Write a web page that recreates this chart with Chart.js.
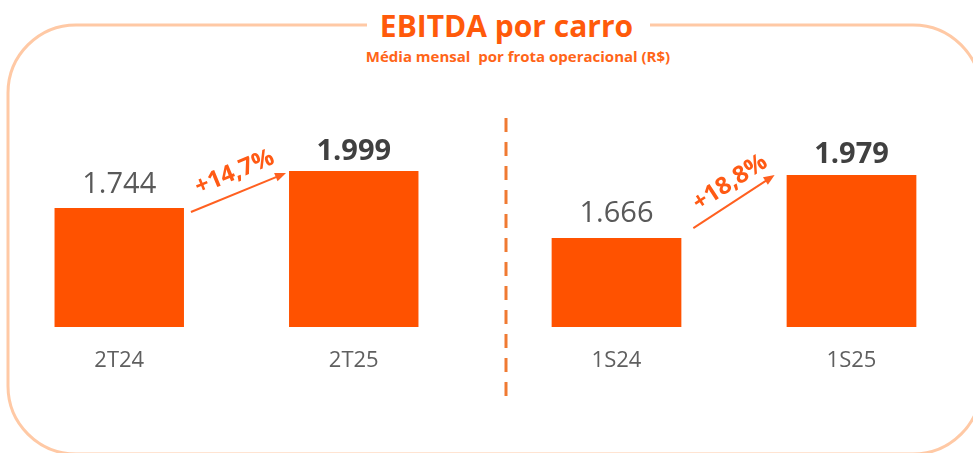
<!DOCTYPE html>
<html><head><meta charset="utf-8">
<script src="https://cdn.jsdelivr.net/npm/chart.js@4.4.1/dist/chart.umd.min.js"></script>
<style>
html,body{margin:0;padding:0;background:#fff;width:973px;height:453px;overflow:hidden;}
#wrap{position:relative;width:973px;height:453px;}
#bg{position:absolute;left:0;top:0;}
.c{position:absolute;top:0;height:400px;}
</style></head><body>
<div id="wrap">
<svg id="bg" width="973" height="453" xmlns="http://www.w3.org/2000/svg">
  <rect x="8" y="25" width="973" height="429" rx="68" ry="68" fill="none" stroke="#FFC9A5" stroke-width="3"/>
  <rect x="367" y="14" width="283" height="22" fill="#fff"/>
  <text x="506.5" y="37" text-anchor="middle" font-family="Open Sans" font-weight="bold" font-size="30" fill="#FF5A0A">EBITDA por carro</text>
  <text x="518" y="62" text-anchor="middle" font-family="Open Sans" font-weight="bold" font-size="15" fill="#FF6518" style="white-space:pre">Média mensal  por frota operacional (R$)</text>
  <line x1="506" y1="118" x2="506" y2="400" stroke="#F07A32" stroke-width="3" stroke-dasharray="14 10"/>
</svg>
<div class="c" style="left:2px;width:469px"><canvas id="c1"></canvas></div>
<div class="c" style="left:499px;width:470px"><canvas id="c2"></canvas></div>
</div>
<script>
// ---- data ----
const quarterLabels = ['2T24', '2T25'];
const quarterValues = [1744, 1999];
const quarterGrowth = '+14,7%';
const semesterLabels = ['1S24', '1S25'];
const semesterValues = [1666, 1979];
const semesterGrowth = '+18,8%';

function fmt(v){ return Math.floor(v/1000) + '.' + String(v % 1000).padStart(3,'0'); }

const annot = {
  id: 'annot',
  afterDatasetsDraw(chart, args, o){
    const ctx = chart.ctx;
    const meta = chart.getDatasetMeta(0);
    const vals = chart.data.datasets[0].data;
    meta.data.forEach((bar, i) => {
      const bold = i === 1;
      ctx.save();
      ctx.font = (bold ? 'bold ' : '') + '29px "Open Sans"';
      ctx.fillStyle = bold ? '#404040' : '#595959';
      ctx.textAlign = 'center';
      ctx.textBaseline = 'alphabetic';
      ctx.fillText(fmt(vals[i]), bar.x, bar.y - (bold ? o.gapBold : o.gap));
      ctx.restore();
    });
    const b0 = meta.data[0], b1 = meta.data[1];
    const x0 = b0.x + b0.width/2 + o.start[0], y0 = b0.y + o.start[1];
    const x1 = b1.x - b1.width/2 + o.end[0], y1 = b1.y + o.end[1];
    const ang = Math.atan2(y1 - y0, x1 - x0);
    const hl = 11, hw = 4.5;
    ctx.save();
    ctx.strokeStyle = o.color; ctx.fillStyle = o.color; ctx.lineWidth = 2;
    ctx.beginPath();
    ctx.moveTo(x0, y0);
    ctx.lineTo(x1 - hl*0.8*Math.cos(ang), y1 - hl*0.8*Math.sin(ang));
    ctx.stroke();
    ctx.translate(x1, y1); ctx.rotate(ang);
    ctx.beginPath(); ctx.moveTo(0,0); ctx.lineTo(-hl,-hw); ctx.lineTo(-hl,hw); ctx.closePath(); ctx.fill();
    ctx.restore();
    ctx.save();
    ctx.translate((x0+x1)/2, (y0+y1)/2); ctx.rotate(ang);
    ctx.fillStyle = o.textColor;
    ctx.font = 'bold 24px "Open Sans"';
    ctx.textAlign = 'center'; ctx.textBaseline = 'alphabetic';
    ctx.fillText(o.text, o.dx, -o.lift);
    ctx.restore();
  }
};

function makeChart(id, labels, values, min, max, annotOpts){
  return new Chart(document.getElementById(id), {
    type: 'bar',
    data: { labels: labels, datasets: [{ data: values, backgroundColor: '#FF5200', barPercentage: 0.552, categoryPercentage: 1 }] },
    options: {
      responsive: true, maintainAspectRatio: false, animation: false,
      layout: { padding: { top: 100, left: 0, right: 0, bottom: 0 } },
      plugins: { legend: { display: false }, tooltip: { enabled: false }, annot: annotOpts },
      scales: {
        x: { grid: { display: false, drawTicks: false }, border: { display: false },
             ticks: { color: '#5f5f5f', font: { family: 'Open Sans', size: 22 }, padding: 21 },
             afterFit(s){ s.height = 73; } },
        y: { display: false, min: min, max: max }
      }
    },
    plugins: [annot]
  });
}

function draw(){
  makeChart('c1', quarterLabels, quarterValues, 924, 2488,
    { text: quarterGrowth, start: [7, 4], end: [-3, 2], lift: 13, dx: 4, gap: 15, gapBold: 11, color: '#FF6020', textColor: '#FF5A14' });
  makeChart('c2', semesterLabels, semesterValues, 1224, 2352,
    { text: semesterGrowth, start: [12, -10], end: [-12, 0], lift: 11, dx: 7, gap: 16, gapBold: 12, color: '#FF6020', textColor: '#FF5A14' });
}
if (document.fonts && document.fonts.load) {
  Promise.all([document.fonts.load('29px "Open Sans"'), document.fonts.load('bold 29px "Open Sans"')]).then(draw, draw);
} else { draw(); }
</script>
</body></html>
